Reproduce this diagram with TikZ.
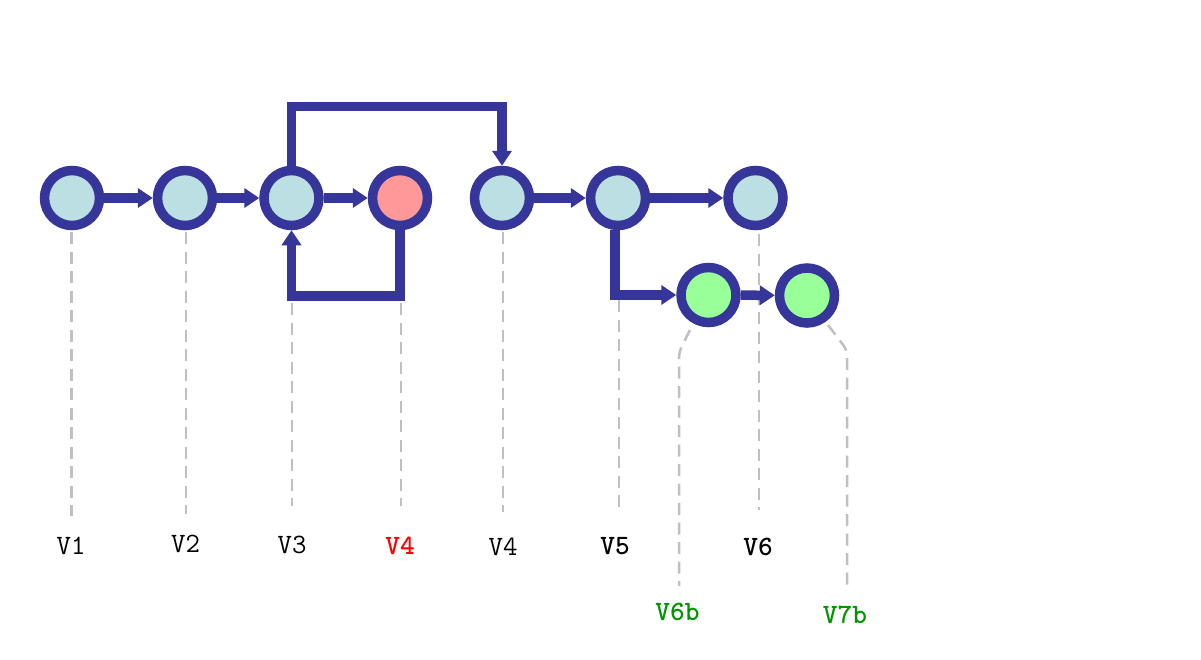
\documentclass[tikz,border=0pt]{standalone}
\usepackage{fontspec}
\usetikzlibrary{arrows.meta}
\definecolor{ring}{RGB}{54,54,154}
\definecolor{lblue}{RGB}{187,223,226}
\definecolor{lred}{RGB}{255,153,153}
\definecolor{lgreen}{RGB}{153,255,153}
\definecolor{dgray}{RGB}{192,192,192}
\definecolor{lbgreen}{RGB}{0,150,0}
\tikzset{
  vnode/.style={circle,draw=ring,line width=9.5pt,minimum size=55pt,inner sep=0pt,fill=lblue},
  rnode/.style={vnode,fill=lred},
  gnode/.style={vnode,fill=lgreen},
  arr/.style={draw=ring,line width=9.5pt,-{Triangle[length=15pt,width=19pt]}},
  guide/.style={draw=dgray,line width=2.5pt,dash pattern=on 12pt off 7.5pt},
  lbl/.style={font=\fontsize{28}{32}\selectfont\ttfamily,inner sep=0pt},
  blbl/.style={lbl,font=\fontsize{28}{32}\selectfont\ttfamily\bfseries}
}
\begin{document}
\begin{tikzpicture}[x=1pt,y=-1pt]
\useasboundingbox (0,0) rectangle (1201,659);
% guide coordinates
\coordinate (g1a) at (71.5,232); \coordinate (g1b) at (71.5,516);
\coordinate (g2a) at (186,232); \coordinate (g2b) at (186,514);
\coordinate (g3a) at (292,303); \coordinate (g3b) at (292,506);
\coordinate (g4ra) at (401,303); \coordinate (g4rb) at (401,506);
\coordinate (g4a) at (503,232); \coordinate (g4b) at (503,512);
\coordinate (g5a) at (619,300); \coordinate (g5b) at (619,512);
\coordinate (g6a) at (759,234); \coordinate (g6b) at (759,510);
\coordinate (g6ba) at (690,330); \coordinate (g6bm) at (679,352); \coordinate (g6bb) at (679,586);
\coordinate (g7ba) at (828,325); \coordinate (g7bm) at (847,350); \coordinate (g7bb) at (847,590);
\draw[guide] (g1a) -- (g1b);
\draw[guide] (g2a) -- (g2b);
\draw[guide] (g3a) -- (g3b);
\draw[guide] (g4ra) -- (g4rb);
\draw[guide] (g4a) -- (g4b);
\draw[guide] (g5a) -- (g5b);
\draw[guide] (g6a) -- (g6b);
\draw[guide,rounded corners=6pt] (g6ba) -- (g6bm) -- (g6bb);
\draw[guide,rounded corners=6pt] (g7ba) -- (g7bm) -- (g7bb);
% nodes
\node[vnode] (v1) at (72,198) {};
\node[vnode] (v2) at (185,198) {};
\node[vnode] (v3) at (291.5,198) {};
\node[rnode] (v4r) at (400,198) {};
\node[vnode] (v4) at (502,198) {};
\node[vnode] (v5) at (618,198) {};
\node[vnode] (v6) at (755.5,198) {};
\node[gnode] (v6b) at (708.5,295) {};
\node[gnode] (v7b) at (807,295.5) {};
% connectors
\draw[arr] (v1) -- (v2);
\draw[arr] (v2) -- (v3);
\draw[arr] (v3) -- (v4r);
\draw[arr] (v4) -- (v5);
\draw[arr] (v5) -- (v6);
\draw[arr] (v6b) -- (v7b);
\draw[arr] (v3.north) -- (v3.north |- 0,106.7) -| (v4.north);
\draw[arr] (v4r.south) -- (v4r.south |- 0,296) -| (v3.south);
\draw[arr] ([xshift=-3pt]v5.south) |- (v6b);
% labels
\node[lbl] (l1) at (71,546) {V1};
\node[lbl] (l2) at (185.5,543.5) {V2};
\node[lbl] (l3) at (292,545) {V3};
\node[blbl,text=red] (l4r) at (400,546) {V4};
\node[lbl] (l4) at (503,546.5) {V4};
\node[blbl] (l5) at (615,546.5) {V5};
\node[blbl] (l6) at (758,547) {V6};
\node[blbl,text=lbgreen] (l6b) at (677.5,612) {V6b};
\node[blbl,text=lbgreen] (l7b) at (845,615) {V7b};
\end{tikzpicture}
\end{document}
